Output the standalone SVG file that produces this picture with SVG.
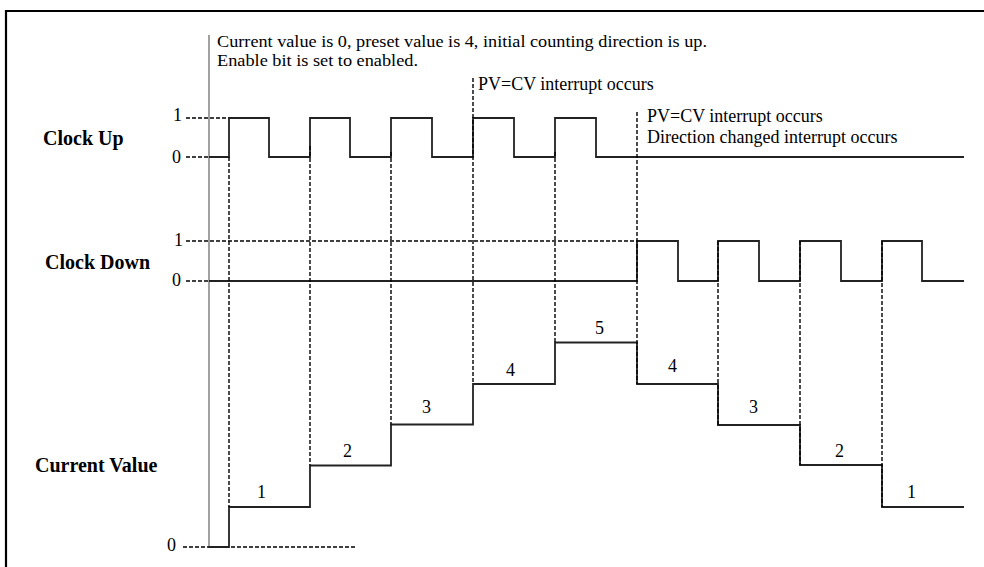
<svg xmlns="http://www.w3.org/2000/svg" width="984" height="567" viewBox="0 0 984 567">
<style>
.lbl{font-family:"Liberation Serif","Times New Roman",serif;font-weight:bold;font-size:20px;fill:#000}
.txt{font-family:"Liberation Serif","Times New Roman",serif;font-size:18px;fill:#000}
.note{font-family:"Liberation Serif","Times New Roman",serif;font-size:16.4px;fill:#000}
.wave{fill:none;stroke:#222;stroke-width:1.8}
.dash{fill:none;stroke:#000;stroke-width:1.4;stroke-dasharray:4 2}
.axis{fill:none;stroke:#555;stroke-width:1.1}
</style>
<rect width="984" height="567" fill="#fff"/>
<g id="frame">
<path d="M6,567 V11 H984" fill="none" stroke="#000" stroke-width="2.2"/>
</g>
<g id="timeline">
<line class="axis" x1="209" y1="35" x2="209" y2="548"/>
</g>
<g id="annotations">
<text class="note" x="217" y="47" textLength="490" lengthAdjust="spacingAndGlyphs">Current value is 0, preset value is 4, initial counting direction is up.</text>
<text class="note" x="217" y="65.5" textLength="201" lengthAdjust="spacingAndGlyphs">Enable bit is set to enabled.</text>
<text class="txt" x="478" y="90">PV=CV interrupt occurs</text>
<text class="txt" x="647" y="122">PV=CV interrupt occurs</text>
<text class="txt" x="647" y="143">Direction changed interrupt occurs</text>
</g>
<g id="clock-up">
<text class="lbl" x="43" y="145">Clock Up</text>
<text class="txt" x="173" y="121">1</text>
<text class="txt" x="172" y="163">0</text>
<line class="dash" x1="186" y1="118" x2="229" y2="118"/>
<line class="dash" x1="186" y1="157" x2="229" y2="157"/>
<path class="wave" d="M209,157 H229 V118 H269 V157 H310 V118 H350 V157 H391 V118 H432 V157 H473 V118 H514 V157 H555 V118 H596 V157 H964"/>
</g>
<g id="clock-down">
<text class="lbl" x="45" y="269">Clock Down</text>
<text class="txt" x="174" y="246">1</text>
<text class="txt" x="172" y="286">0</text>
<line class="dash" x1="186" y1="241" x2="637" y2="241"/>
<line class="dash" x1="186" y1="281" x2="229" y2="281"/>
<path class="wave" d="M209,281 H637 V241 H678 V281 H718 V241 H759 V281 H800 V241 H841 V281 H882 V241 H922 V281 H964"/>
</g>
<g id="current-value">
<text class="lbl" x="35" y="472">Current Value</text>
<text class="txt" x="167" y="551">0</text>
<line class="dash" x1="183" y1="547" x2="357" y2="547"/>
<path class="wave" d="M209,547 H229 V507 H310 V465.5 H391 V424.5 H473 V384 H555 V342.5 H637 V384 H718 V425 H800 V465 H882 V507 H964"/>
<text class="txt" x="257" y="498">1</text>
<text class="txt" x="343" y="457">2</text>
<text class="txt" x="422" y="413">3</text>
<text class="txt" x="506" y="376">4</text>
<text class="txt" x="595" y="334">5</text>
<text class="txt" x="668" y="372">4</text>
<text class="txt" x="749" y="413">3</text>
<text class="txt" x="835" y="457">2</text>
<text class="txt" x="907" y="498">1</text>
</g>
<g id="connectors">
<line class="dash" x1="229" y1="157" x2="229" y2="507"/>
<line class="dash" x1="310" y1="146" x2="310" y2="465.5"/>
<line class="dash" x1="391" y1="152" x2="391" y2="424.5"/>
<line class="dash" x1="473" y1="78" x2="473" y2="384"/>
<line class="dash" x1="555" y1="152" x2="555" y2="342.5"/>
<line class="dash" x1="637" y1="112" x2="637" y2="384"/>
<line class="dash" x1="718" y1="241" x2="718" y2="425"/>
<line class="dash" x1="800" y1="241" x2="800" y2="465"/>
<line class="dash" x1="882" y1="241" x2="882" y2="507"/>
</g>
</svg>
